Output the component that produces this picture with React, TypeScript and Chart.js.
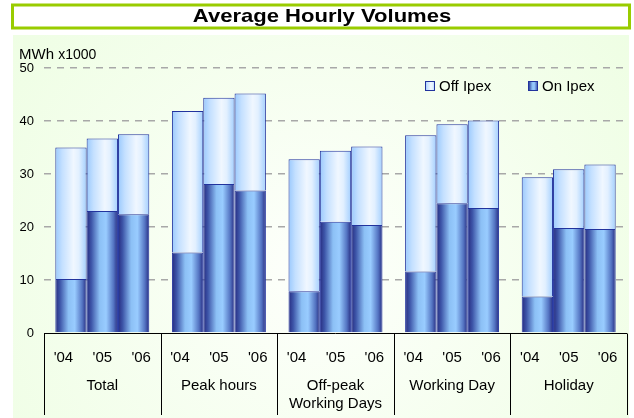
import React, { useEffect, useRef } from 'react';
import { Chart, registerables } from 'chart.js';

Chart.register(...registerables);

// ---------- data ----------
const groupLabels: (string | string[])[] = ['Total', 'Peak hours', ['Off-peak', 'Working Days'], 'Working Day', 'Holiday'];
const yearLabels = ["'04", "'05", "'06"];
const onIpex04 = [10.2, 15.2, 7.9, 11.6, 6.9];
const onIpex05 = [23.0, 28.1, 21.0, 24.5, 19.8];
const onIpex06 = [22.4, 26.9, 20.4, 23.6, 19.6];
const offIpex04 = [24.8, 26.7, 24.9, 25.7, 22.5];
const offIpex05 = [13.7, 16.3, 13.4, 14.9, 11.1];
const offIpex06 = [15.1, 18.3, 14.8, 16.5, 12.2];
const yMin = 0;
const yMax = 50;
const yStep = 10;
const chartTitle = 'Average Hourly Volumes';
const unitMain = 'MWh';
const unitSub = 'x1000';
const legendOff = 'Off Ipex';
const legendOn = 'On Ipex';

// ---------- style ----------
const FONT = "'Liberation Sans', Arial, sans-serif";
const CAT_PCT = 0.806;
const BORDER = '#22339e';

function addOnStops(g: CanvasGradient) {
  g.addColorStop(0, '#262b80');
  g.addColorStop(0.15, '#3d55a8');
  g.addColorStop(0.42, '#8cc0f5');
  g.addColorStop(0.62, '#99ccff');
  g.addColorStop(0.86, '#5474c2');
  g.addColorStop(1, '#262b80');
}
function addOffStops(g: CanvasGradient) {
  g.addColorStop(0, '#9ac9fd');
  g.addColorStop(0.22, '#c4e0ff');
  g.addColorStop(0.58, '#f0f7ff');
  g.addColorStop(0.75, '#e2f0ff');
  g.addColorStop(1, '#a3cffe');
}

function barGradient(chart: any, dataIndex: number, stackIdx: number, kind: 'on' | 'off') {
  const x = chart.scales && chart.scales.x;
  if (!x || !chart.chartArea) return kind === 'on' ? '#5a7cc8' : '#dceeff';
  const n = x.getLabels().length;
  const catW = x.width / n;
  const groupW = catW * CAT_PCT;
  const barW = groupW / 3;
  const center = x.getPixelForValue(dataIndex);
  const left = center - groupW / 2 + stackIdx * barW;
  const g = chart.ctx.createLinearGradient(left, 0, left + barW, 0);
  if (kind === 'on') addOnStops(g);
  else addOffStops(g);
  return g;
}

const decorPlugin = {
  id: 'decor',
  beforeDraw(chart: any) {
    const ctx: CanvasRenderingContext2D = chart.ctx;
    ctx.save();
    const bg = ctx.createRadialGradient(318, 270, 10, 318, 270, 400);
    bg.addColorStop(0, '#fdfffb');
    bg.addColorStop(1, '#eefee3');
    ctx.fillStyle = bg;
    ctx.fillRect(13, 35, 616, 383);
    // title box
    ctx.fillStyle = '#ffffff';
    ctx.fillRect(11, 4, 620, 26);
    ctx.strokeStyle = '#99cc00';
    ctx.lineWidth = 3;
    ctx.strokeRect(12.5, 5, 617, 23);
    ctx.fillStyle = '#000';
    ctx.font = `bold 19px ${FONT}`;
    ctx.textAlign = 'center';
    ctx.textBaseline = 'middle';
    ctx.save();
    ctx.translate(322, 17);
    ctx.scale(1.16, 1);
    ctx.fillText(chartTitle, 0, 0);
    ctx.restore();
    // unit label
    ctx.textAlign = 'left';
    ctx.textBaseline = 'alphabetic';
    ctx.font = `15px ${FONT}`;
    ctx.fillText(unitMain, 19, 59);
    const w = ctx.measureText(unitMain + ' ').width;
    ctx.font = `14px ${FONT}`;
    ctx.fillText(unitSub, 19 + w, 59);
    ctx.restore();
  },
  afterDraw(chart: any) {
    const ctx: CanvasRenderingContext2D = chart.ctx;
    const x = chart.scales.x;
    const y = chart.scales.y;
    const y0 = Math.round(y.getPixelForValue(0)) + 0.5;
    ctx.save();
    ctx.strokeStyle = '#000';
    ctx.lineWidth = 1;
    ctx.beginPath();
    ctx.moveTo(x.left, y0);
    ctx.lineTo(x.right, y0);
    const n = x.getLabels().length;
    for (let i = 0; i <= n; i++) {
      const px = Math.round(x.getPixelForValue(i - 0.5)) + 0.5;
      ctx.moveTo(px, y0);
      ctx.lineTo(px, 415);
    }
    ctx.stroke();

    // legend
    const items: [string, 'off' | 'on', number][] = [
      [legendOff, 'off', 425],
      [legendOn, 'on', 528],
    ];
    ctx.font = `15px ${FONT}`;
    ctx.textBaseline = 'middle';
    ctx.textAlign = 'left';
    for (const [label, kind, lx] of items) {
      const g = ctx.createLinearGradient(lx, 0, lx + 10, 0);
      if (kind === 'on') addOnStops(g);
      else addOffStops(g);
      ctx.fillStyle = g;
      ctx.fillRect(lx, 81, 10, 10);
      ctx.strokeStyle = BORDER;
      ctx.strokeRect(lx + 0.5, 81.5, 9, 9);
      ctx.fillStyle = '#000';
      ctx.fillText(label, lx + 14, 86.5);
    }
    ctx.restore();
  },
};

export default function App() {
  const ref = useRef<HTMLCanvasElement | null>(null);

  useEffect(() => {
    document.body.style.margin = '0';
    const canvas = ref.current;
    if (!canvas) return;

    const onSeries = [onIpex04, onIpex05, onIpex06];
    const offSeries = [offIpex04, offIpex05, offIpex06];
    const datasets: any[] = [];
    yearLabels.forEach((yr, k) => {
      datasets.push({
        label: legendOn + ' ' + yr,
        data: onSeries[k],
        stack: yr,
        backgroundColor: (c: any) => barGradient(c.chart, c.dataIndex, k, 'on'),
        borderColor: BORDER,
        borderWidth: 1,
      });
      datasets.push({
        label: legendOff + ' ' + yr,
        data: offSeries[k],
        stack: yr,
        backgroundColor: (c: any) => barGradient(c.chart, c.dataIndex, k, 'off'),
        borderColor: BORDER,
        borderWidth: 1,
      });
    });

    const yearAxisLabels: string[] = [];
    groupLabels.forEach(() => yearLabels.forEach((y) => yearAxisLabels.push(y)));

    const chart = new Chart(canvas, {
      type: 'bar',
      data: { labels: groupLabels as any, datasets },
      plugins: [decorPlugin],
      options: {
        responsive: false,
        animation: false,
        devicePixelRatio: 1,
        layout: { padding: { top: 68, right: 7, bottom: 0, left: 0 } },
        datasets: { bar: { categoryPercentage: CAT_PCT, barPercentage: 1 } },
        plugins: {
          legend: { display: false },
          title: { display: false },
          tooltip: { enabled: false },
        },
        scales: {
          x: {
            type: 'category',
            stacked: true,
            offset: true,
            weight: 1,
            grid: { display: false },
            border: { display: false },
            ticks: { font: { family: FONT, size: 15, lineHeight: 1.25 }, color: '#000', padding: 5, autoSkip: false, maxRotation: 0 },
            afterFit: (s: any) => { s.height = 55; },
          },
          xYears: {
            type: 'category',
            position: 'bottom',
            labels: yearAxisLabels,
            offset: true,
            weight: 0,
            grid: { display: false },
            border: { display: false },
            ticks: { font: { family: FONT, size: 15, lineHeight: 1.2 }, color: '#000', padding: 8, autoSkip: false, maxRotation: 0 },
            afterFit: (s: any) => { s.height = 30; },
          },
          y: {
            stacked: true,
            min: yMin,
            max: yMax,
            ticks: { stepSize: yStep, font: { family: FONT, size: 13 }, color: '#000', padding: 10 },
            grid: {
              color: (c: any) => (c.tick && c.tick.value === 0 ? 'rgba(0,0,0,0)' : '#a8a8a8'),
              lineWidth: 1.5,
              drawTicks: false,
            },
            border: { display: false, dash: [7, 6] },
            afterFit: (s: any) => { s.width = 44; },
          },
        } as any,
      },
    });
    return () => chart.destroy();
  }, []);

  return (
    <canvas ref={ref} width={634} height={418} style={{ display: 'block', width: 634, height: 418 }} />
  );
}
